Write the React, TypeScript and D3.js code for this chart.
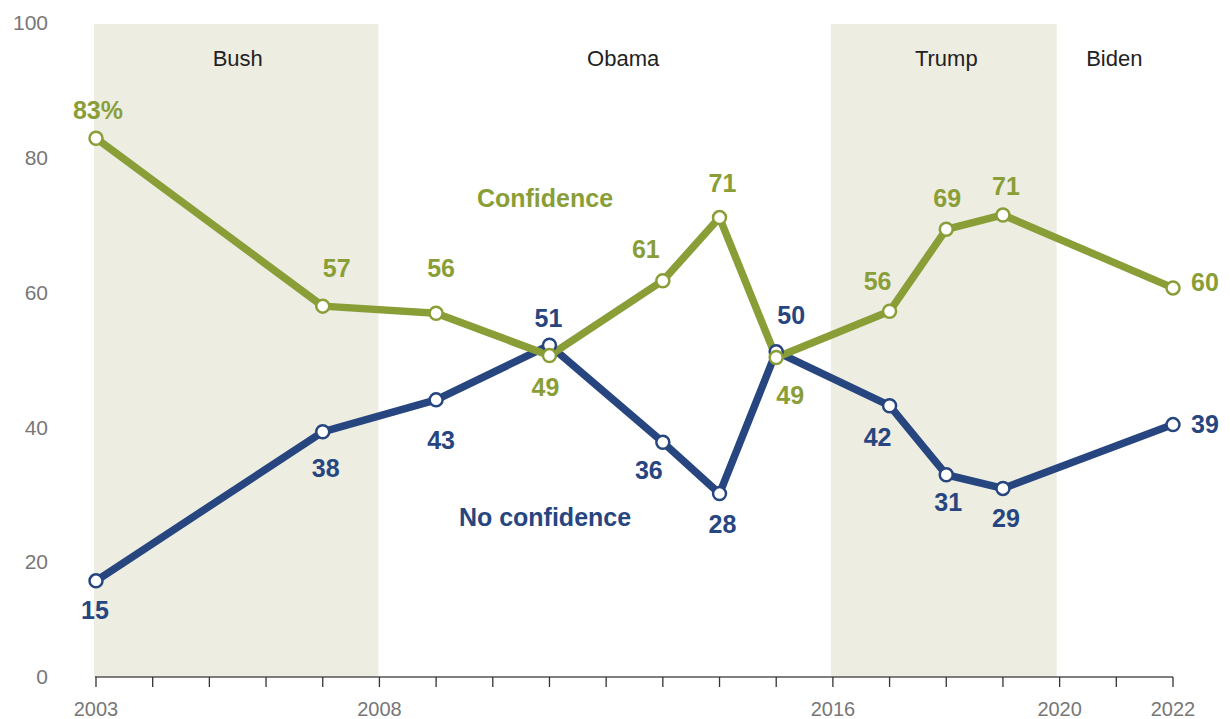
import React from "react";
import * as d3 from "d3";

const years = [2003, 2007, 2009, 2011, 2013, 2014, 2015, 2017, 2018, 2019, 2022];
const confidence = [83.0, 57.2, 56.1, 49.6, 61.1, 70.8, 49.3, 56.4, 69.0, 71.2, 60.0];
const confidenceLabels = ["83%", "57", "56", "49", "61", "71", "49", "56", "69", "71", "60"];
const noConfidence = [15.0, 37.9, 42.8, 51.2, 36.3, 28.4, 50.2, 41.9, 31.3, 29.2, 39.0];
const noConfidenceLabels = ["15", "38", "43", "51", "36", "28", "50", "42", "31", "29", "39"];

const yTicks = [0, 20, 40, 60, 80, 100];
const xTickLabels = [2003, 2008, 2016, 2020, 2022];
const presidents = [
  { name: "Bush", start: 2003, end: 2008, shaded: true },
  { name: "Obama", start: 2008, end: 2016, shaded: false },
  { name: "Trump", start: 2016, end: 2020, shaded: true },
  { name: "Biden", start: 2020, end: 2022, shaded: false },
];

// label offsets (dx, dy, anchor) relative to points
const confOffsets: [number, number, string][] = [
  [2, -28, "middle"], [14, -38, "middle"], [5, -45, "middle"], [-4, 32, "middle"],
  [-17, -31, "middle"], [3, -34, "middle"], [14, 38, "middle"], [-12, -30, "middle"],
  [1, -31, "middle"], [3, -29, "middle"], [18, -6, "start"],
];
const noConfOffsets: [number, number, string][] = [
  [-1, 29, "middle"], [3, 36, "middle"], [5, 40, "middle"], [-1, -27, "middle"],
  [-14, 28, "middle"], [3, 31, "middle"], [15, -36, "middle"], [-12, 32, "middle"],
  [2, 28, "middle"], [3, 30, "middle"], [18, 0, "start"],
];

const GREEN = "#8A9E38";
const BLUE = "#27467F";
const BAND = "#EDEDE2";

export default function App() {
  const W = 1230;
  const H = 719;
  const x = d3.scaleLinear().domain([2003, 2022]).range([96, 1173]);
  const y = d3.scaleLinear().domain([0, 100]).range([678.5, 27.5]);
  const tickLabelY = d3.scaleLinear().domain([20, 100]).range([562, 23]);
  const axisY = 677;

  const line = d3
    .line<number>()
    .x((_, i) => x(years[i]))
    .y((d) => y(d));

  const allYears = d3.range(2003, 2023);
  const fontLabel = "'Liberation Sans', Arial, sans-serif";

  return (
    <svg
      width={W}
      height={H}
      style={{ position: "absolute", left: 0, top: 0, background: "#fff" }}
      fontFamily={fontLabel}
    >
      {presidents
        .filter((p) => p.shaded)
        .map((p) => (
          <rect
            key={p.name}
            x={x(p.start) - 2}
            y={tickLabelY(100) + 1}
            width={x(p.end) - x(p.start) + (p.name === "Trump" ? -1 : 1)}
            height={axisY - tickLabelY(100) - 1}
            fill={BAND}
          />
        ))}
      {presidents.map((p) => (
        <text
          key={p.name}
          x={p.name === "Biden" ? (x(p.start) + x(p.end)) / 2 - 2 : (x(p.start) + x(p.end)) / 2 + (p.name === "Obama" ? 17 : 0)}
          y={58}
          dy="0.35em"
          textAnchor="middle"
          fontSize={22}
          fill="#222"
        >
          {p.name}
        </text>
      ))}

      {yTicks.map((t) => (
        <text
          key={t}
          x={48}
          y={t === 0 ? axisY : tickLabelY(t)}
          dy="0.35em"
          textAnchor="end"
          fontSize={21}
          fill="#777"
        >
          {t}
        </text>
      ))}

      <line x1={x(2003) - 1} x2={x(2022)} y1={axisY} y2={axisY} stroke="#555" strokeWidth={1.5} />
      {allYears.map((yr) => (
        <line key={yr} x1={x(yr)} x2={x(yr)} y1={axisY} y2={axisY + 10} stroke="#333" strokeWidth={1.3} />
      ))}
      {xTickLabels.map((yr) => (
        <text key={yr} x={x(yr)} y={709} dy="0.35em" textAnchor="middle" fontSize={20} fill="#777">
          {yr}
        </text>
      ))}

      <path d={line(noConfidence) || ""} fill="none" stroke={BLUE} strokeWidth={7.5} strokeLinejoin="round" />
      <path d={line(confidence) || ""} fill="none" stroke={GREEN} strokeWidth={7.5} strokeLinejoin="round" />

      {noConfidence.map((v, i) => (
        <circle key={"b" + i} cx={x(years[i])} cy={y(v)} r={6.5} fill="#fff" stroke={BLUE} strokeWidth={2.5} />
      ))}
      {confidence.map((v, i) => (
        <circle key={"g" + i} cx={x(years[i])} cy={y(v)} r={6.5} fill="#fff" stroke={GREEN} strokeWidth={2.5} />
      ))}

      {confidence.map((v, i) => (
        <text
          key={"gl" + i}
          x={x(years[i]) + confOffsets[i][0]}
          y={y(v) + confOffsets[i][1]}
          dy="0.35em"
          textAnchor={confOffsets[i][2]}
          fontSize={25}
          fontWeight="bold"
          fill={GREEN}
        >
          {confidenceLabels[i]}
        </text>
      ))}
      {noConfidence.map((v, i) => (
        <text
          key={"bl" + i}
          x={x(years[i]) + noConfOffsets[i][0]}
          y={y(v) + noConfOffsets[i][1]}
          dy="0.35em"
          textAnchor={noConfOffsets[i][2]}
          fontSize={25}
          fontWeight="bold"
          fill={BLUE}
        >
          {noConfidenceLabels[i]}
        </text>
      ))}

      <text x={545} y={198} dy="0.35em" textAnchor="middle" fontSize={25} fontWeight="bold" fill={GREEN}>
        Confidence
      </text>
      <text x={545} y={517} dy="0.35em" textAnchor="middle" fontSize={25} fontWeight="bold" fill={BLUE}>
        No confidence
      </text>
    </svg>
  );
}
